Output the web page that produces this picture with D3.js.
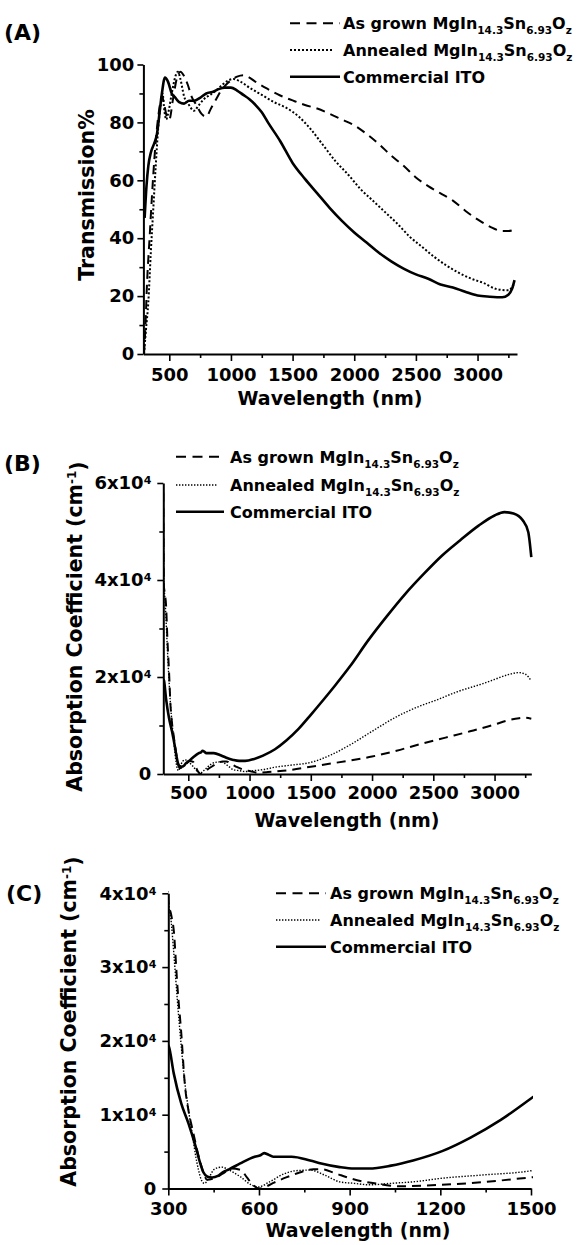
<!DOCTYPE html>
<html>
<head>
<meta charset="utf-8">
<script src="https://cdn.jsdelivr.net/npm/d3@7/dist/d3.min.js"></script>
<style>
  body { margin: 0; background: #fff; }
  svg text { font-family: "DejaVu Sans", sans-serif; font-weight: bold; fill: #000; }
</style>
</head>
<body>
<svg id="chart" width="578" height="1245"></svg>
<script>
// ---- data: [wavelength nm, value] ----
// (A) transmission %
const transAsGrown = [[295,0],[305,8],[320,25],[340,40],[360,55],[380,68],[400,78],[420,85],[440,89],[460,86],
  [480,82],[500,81],[530,88],[560,95],[590,97.5],[620,96],[650,93],[680,89],[720,86],[760,83],[800,82],[840,85],
  [880,88],[920,91],[960,93],[1000,94.5],[1050,95.8],[1100,96.3],[1150,95.5],[1200,94],[1300,91.5],[1400,89.3],
  [1500,87.6],[1600,86],[1700,84.8],[1800,83],[1900,81],[2000,79],[2100,76],[2200,72.5],[2300,68.5],[2400,65],
  [2500,61],[2600,58],[2700,55.5],[2800,53],[2900,49.5],[3000,46.5],[3100,44],[3200,42.5],[3250,42.5],[3300,43]];
const transAnnealed = [[295,0],[310,8],[330,18],[350,35],[370,50],[390,65],[410,78],[430,86],[445,90],[460,84],
  [475,81],[490,83],[520,90],[550,96],[570,97.5],[590,95],[620,89],[660,86],[700,84],[740,86],[780,88],[830,89.5],
  [880,91],[930,93],[980,94.5],[1020,95],[1080,94],[1150,92],[1250,89.5],[1350,87],[1450,85],[1550,82],
  [1650,77.5],[1750,72],[1850,66.5],[1950,62],[2050,57],[2150,53],[2250,49],[2350,45],[2450,40.5],[2550,37],
  [2650,33.5],[2750,30.5],[2850,28],[2950,26],[3050,24.5],[3150,22.5],[3250,22],[3300,24.5]];
const transITO = [[300,47],[315,58],[330,65],[350,69.5],[380,73],[400,76],[420,83],[440,90],[465,95.5],[490,94],
  [520,90],[550,88.5],[580,87],[620,86.5],[660,87.5],[700,87.5],[750,88.5],[800,90],[850,90.5],[900,91.5],
  [950,92],[1000,92],[1050,91],[1100,89.5],[1150,88],[1200,86],[1250,83.5],[1300,80],[1400,73.5],[1500,66],
  [1600,60.5],[1700,55.5],[1800,50.5],[1900,46],[2000,42],[2100,38.5],[2200,35],[2300,32],[2400,29.5],
  [2500,27.5],[2600,26],[2700,24],[2800,23],[2900,21.5],[3000,20.2],[3100,19.8],[3200,19.6],[3250,20.5],
  [3280,22.5],[3300,25.5]];

// (B)/(C) absorption coefficient, in units of 1e4 cm^-1
const absAsGrown = [[296,5.8],[300,3.9],[310,3.7],[318,3.5],[330,2.75],[343,2.1],[355,1.4],[367,1.05],[379,0.82],
  [391,0.6],[404,0.38],[416,0.22],[428,0.12],[452,0.14],[480,0.2],[510,0.27],[540,0.25],[560,0.15],[580,0.05],
  [600,0],[625,0.03],[650,0.08],[690,0.15],[730,0.21],[780,0.26],[810,0.26],[850,0.21],[900,0.14],[950,0.09],
  [1000,0.06],[1060,0.03],[1150,0.04],[1250,0.06],[1350,0.09],[1500,0.15],[1650,0.21],[1800,0.27],[2000,0.36],
  [2200,0.48],[2400,0.62],[2600,0.75],[2800,0.88],[3000,1.02],[3100,1.1],[3200,1.15],[3250,1.16],[3300,1.14]];
const absAnnealed = [[296,5.9],[300,3.95],[310,3.6],[318,3.2],[330,2.55],[343,1.92],[355,1.42],[367,1.06],
  [380,0.72],[391,0.43],[400,0.25],[410,0.11],[420,0.07],[435,0.15],[452,0.26],[477,0.29],[501,0.25],[538,0.16],
  [574,0.05],[598,0.02],[635,0.09],[684,0.2],[720,0.24],[769,0.25],[818,0.18],[867,0.09],[915,0.07],[964,0.05],
  [1037,0.07],[1110,0.09],[1208,0.14],[1329,0.18],[1500,0.24],[1670,0.4],[1820,0.6],[2000,0.88],[2200,1.18],
  [2400,1.41],[2500,1.5],[2700,1.7],[2900,1.86],[3000,1.95],[3100,2.04],[3200,2.09],[3250,2.06],[3300,1.92]];
const absITO = [[298,1.95],[302,1.92],[318,1.56],[343,1.15],[367,0.88],[391,0.56],[405,0.35],[416,0.22],
  [430,0.16],[445,0.15],[464,0.17],[480,0.22],[501,0.26],[538,0.34],[586,0.43],[605,0.45],[617,0.48],[630,0.46],
  [647,0.43],[708,0.43],[769,0.38],[806,0.34],[867,0.29],[915,0.27],[964,0.27],[1037,0.31],[1110,0.38],
  [1208,0.51],[1300,0.69],[1400,0.93],[1500,1.22],[1600,1.52],[1700,1.83],[1820,2.22],[1970,2.76],[2120,3.25],
  [2270,3.71],[2420,4.12],[2570,4.5],[2720,4.82],[2870,5.12],[3000,5.33],[3080,5.4],[3155,5.37],[3230,5.23],
  [3275,4.99],[3300,4.47]];

const legendLabels = [
  [['As grown MgIn', 0], ['14.3', 1], ['Sn', 0], ['6.93', 1], ['O', 0], ['z', 1]],
  [['Annealed MgIn', 0], ['14.3', 1], ['Sn', 0], ['6.93', 1], ['O', 0], ['z', 1]],
  [['Commercial ITO', 0]]
];

const svg = d3.select('#chart');
svg.append('rect').attr('width', 578).attr('height', 1245).attr('fill', '#fff');

const lineStyles = [
  { dash: '9,6', width: 2 },     // as grown
  { dash: '2,2', width: 2 },     // annealed
  { dash: null, width: 2.6 }     // ITO
];

function drawPanel(p) {
  const x = d3.scaleLinear().domain(p.xDomain).range(p.xRange);
  const y = d3.scaleLinear().domain(p.yDomain).range(p.yRange);
  const g = svg.append('g');

  // clip lines to plot area
  svg.append('clipPath').attr('id', 'clip-' + p.id)
    .append('rect')
    .attr('x', p.xRange[0]).attr('y', p.yRange[1] - 3)
    .attr('width', p.xRange[1] - p.xRange[0] + 2)
    .attr('height', p.yRange[0] - p.yRange[1] + 4);

  const line = d3.line()
    .x(d => x(d[0]))
    .y(d => y(d[1]))
    .curve(d3.curveMonotoneX);

  p.series.forEach((s, i) => {
    const st = lineStyles[i];
    g.append('path')
      .datum(s)
      .attr('clip-path', `url(#clip-${p.id})`)
      .attr('fill', 'none')
      .attr('stroke', '#000')
      .attr('stroke-width', i === 1 ? p.dotWidth : st.width)
      .attr('stroke-dasharray', i === 1 ? p.dotDash : st.dash)
      .attr('d', line);
  });

  // minor ticks
  g.append('g').attr('transform', `translate(0,${p.yRange[0]})`)
    .call(d3.axisBottom(x).tickValues(p.xMinor).tickSize(4).tickFormat('').tickSizeOuter(0))
    .call(a => a.select('.domain').remove());
  g.append('g').attr('transform', `translate(${p.xRange[0]},0)`)
    .call(d3.axisLeft(y).tickValues(p.yMinor).tickSize(4).tickFormat('').tickSizeOuter(0))
    .call(a => a.select('.domain').remove());

  // x axis
  const xAxis = g.append('g').attr('transform', `translate(0,${p.yRange[0]})`)
    .call(d3.axisBottom(x).tickValues(p.xTicks).tickSize(7).tickPadding(p.xPad)
      .tickFormat(d3.format('d')).tickSizeOuter(0));
  xAxis.selectAll('text').attr('font-size', 18);

  // y axis
  const yAxis = g.append('g').attr('transform', `translate(${p.xRange[0]},0)`)
    .call(d3.axisLeft(y).tickValues(p.yTicks).tickSize(6).tickPadding(p.yPad).tickSizeOuter(0)
      .tickFormat(d => (p.sci && d !== 0) ? `${d}x10` : d));
  yAxis.selectAll('text').attr('font-size', 18)
    .each(function (d) {
      if (p.sci && d !== 0) {
        d3.select(this).append('tspan').attr('dy', '-0.45em').attr('font-size', 11).text('4');
      }
    });

  g.selectAll('.domain, .tick line').attr('stroke', '#000');
  g.selectAll('.domain').attr('stroke-width', 2);
  g.selectAll('.tick line').attr('stroke-width', 1.6);

  // axis titles
  g.append('text')
    .attr('x', p.xTitle[0]).attr('y', p.xTitle[1])
    .attr('text-anchor', 'middle').attr('font-size', 19)
    .text('Wavelength (nm)');

  const yt = g.append('text')
    .attr('transform', `translate(${p.yTitle[0]},${p.yTitle[1]}) rotate(-90)`)
    .attr('text-anchor', 'middle').attr('font-size', 20.5);
  if (p.sci) {
    yt.append('tspan').text('Absorption Coefficient (cm');
    yt.append('tspan').attr('dy', '-0.45em').attr('font-size', 12).text('-1');
    yt.append('tspan').attr('dy', '0.45em').text(')');
  } else {
    yt.text('Transmission%');
  }

  // panel label
  g.append('text').attr('x', p.tag[0]).attr('y', p.tag[1])
    .attr('font-size', 22).text(p.label);

  // legend
  p.legendRows.forEach((ry, i) => {
    const st = lineStyles[i];
    g.append('line')
      .attr('x1', p.legendX[0]).attr('x2', i === 1 ? p.legendX[1] - 6 : p.legendX[1])
      .attr('y1', ry).attr('y2', ry)
      .attr('stroke', '#000')
      .attr('stroke-width', i === 1 ? p.dotWidth : st.width)
      .attr('stroke-dasharray', i === 1 ? p.dotDash : (i === 0 ? '10,6.5' : null));
    const t = g.append('text').attr('x', p.legendX[2]).attr('y', ry + 6).attr('font-size', 16);
    let shifted = false;
    legendLabels[i].forEach(([txt, sub]) => {
      const ts = t.append('tspan').text(txt);
      if (sub && !shifted) { ts.attr('dy', 5).attr('font-size', 10.5); shifted = true; }
      else if (!sub && shifted) { ts.attr('dy', -5); shifted = false; }
      else if (sub) ts.attr('font-size', 10.5);
    });
  });
}

drawPanel({
  id: 'a', label: '(A)', tag: [4, 40], sci: false,
  xDomain: [290, 3320], xRange: [143.4, 517],
  yDomain: [0, 100], yRange: [354, 64.5],
  xTicks: [500, 1000, 1500, 2000, 2500, 3000],
  xMinor: [750, 1250, 1750, 2250, 2750, 3250],
  yTicks: [0, 20, 40, 60, 80, 100],
  yMinor: [10, 30, 50, 70, 90],
  xPad: 7, yPad: 3,
  xTitle: [330, 405], yTitle: [93.5, 195],
  series: [transAsGrown, transAnnealed, transITO],
  dotWidth: 2, dotDash: '2,2',
  legendRows: [23.3, 50, 76.7], legendX: [290, 340, 343]
});

drawPanel({
  id: 'b', label: '(B)', tag: [4, 471], sci: true,
  xDomain: [296, 3300], xRange: [163.3, 531.3],
  yDomain: [0, 6], yRange: [774, 483],
  xTicks: [500, 1000, 1500, 2000, 2500, 3000],
  xMinor: [750, 1250, 1750, 2250, 2750, 3250],
  yTicks: [0, 2, 4, 6],
  yMinor: [1, 3, 5],
  xPad: 5, yPad: 6,
  xTitle: [347, 827], yTitle: [81.5, 626.5],
  series: [absAsGrown, absAnnealed, absITO],
  dotWidth: 1.4, dotDash: '1.4,1.6',
  legendRows: [456.7, 485, 511.7], legendX: [176, 224, 230]
});

drawPanel({
  id: 'c', label: '(C)', tag: [6, 901], sci: true,
  xDomain: [300, 1500], xRange: [168.3, 531],
  yDomain: [0, 4], yRange: [1188.5, 893.3],
  xTicks: [300, 600, 900, 1200, 1500],
  xMinor: [450, 750, 1050, 1350],
  yTicks: [0, 1, 2, 3, 4],
  yMinor: [0.5, 1.5, 2.5, 3.5],
  xPad: 7, yPad: 6,
  xTitle: [358, 1237], yTitle: [76, 1021.5],
  series: [absAsGrown, absAnnealed, absITO],
  dotWidth: 1.4, dotDash: '1.4,1.6',
  legendRows: [893.3, 920, 946.7], legendX: [276, 326, 330]
});
</script>
</body>
</html>
